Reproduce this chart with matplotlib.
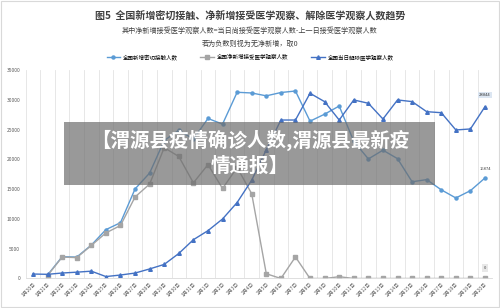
import numpy as np
import matplotlib.pyplot as plt
from matplotlib.patches import Rectangle

plt.rcParams['font.family'] = ['Noto Sans CJK SC', 'DejaVu Sans']

dates = ['1月%d日' % d for d in range(20, 32)] + ['2月%d日' % d for d in range(1, 21)]

# 全国新增密切接触人数
contacts = [np.nan, 600, 3650, 3600, 5600, 8200, 9368, 15034, 17704, 23156, 24886,
            23408, 26857, 25914, 31257, 31139, 30659, 31215, 31470, 26407, 27582,
            28951, 23024, 20069, 21536, 20116, 16235, 16598, 14885, 13517, 14745, 16874]
# 全国净新增接受医学观察人数
net_obs = [np.nan, 500, 3600, 3500, 5547, 7650, 8897, 13679, 15858, 21957, 20480,
           16051, 19116, 15106, 18629, 14226, 799, 0, 3615, 0, 0,
           300, 0, 0, 0, 0, 0, 0, 0, 0, 0, 0]
# 全国当日解除医学观察人数
released = [750, 700, 920, 1060, 1230, 324, 583, 914, 1604, 2364, 4201,
            6509, 8030, 9990, 12755, 16500, 21600, 26600, 26600, 31090, 29680,
            26600, 29970, 29410, 26770, 29970, 29690, 28000, 27830, 24930, 25100, 28844]

names = ['全国新增密切接触人数', '全国净新增接受医学观察人数', '全国当日解除医学观察人数']

fig = plt.figure(figsize=(5, 3.08), dpi=100)
ax = fig.add_axes([0.0514, 0.0958, 0.9332, 0.677])
x = np.arange(len(dates))

ax.plot(x, contacts, color='#5B9BD5', marker='o', markersize=2.2, linewidth=1.0, label=names[0])
ax.plot(x, net_obs, color='#A5A5A5', marker='s', markersize=2.4, linewidth=1.0, label=names[1])
ax.plot(x, released, color='#4472C4', marker='^', markersize=2.6, linewidth=1.0, label=names[2])

# data labels on the last points
ax.annotate('%d' % released[-1], (x[-1], released[-1]), xytext=(0, 7), textcoords='offset points',
            ha='center', va='bottom', fontsize=3, color='#404040',
            bbox=dict(boxstyle='square,pad=0.3', fc='#dce6f2', ec='none'))
ax.annotate('%d' % contacts[-1], (x[-1], contacts[-1]), xytext=(0, 5), textcoords='offset points',
            ha='center', va='bottom', fontsize=3, color='#404040')
ax.annotate('%d' % net_obs[-1], (x[-1], net_obs[-1]), xytext=(0, 6), textcoords='offset points',
            ha='center', va='bottom', fontsize=3, color='#404040',
            bbox=dict(boxstyle='square,pad=0.4', fc='#e8e8e8', ec='none'))

ax.set_xlim(-0.5, len(dates) - 0.5)
ax.set_ylim(0, 35000)
ax.set_yticks(range(0, 35001, 5000))
ax.set_xticks(x)
ax.set_xticklabels(dates, rotation=45, ha='right', rotation_mode='anchor', fontsize=3.5, color='#595959')
ax.tick_params(axis='y', labelsize=3.5, colors='#595959', length=0, pad=4)
ax.tick_params(axis='x', length=0, pad=2)
for b in np.arange(-0.5, len(dates), 1.0):
    ax.axvline(b, color='#e3e3e3', linewidth=0.6, zorder=0)
for s in ['top', 'right', 'left']:
    ax.spines[s].set_visible(False)
ax.spines['bottom'].set_color('#d9d9d9')
ax.spines['bottom'].set_linewidth(0.6)

fig.text(0.5, 0.950, '图5  全国新增密切接触、净新增接受医学观察、解除医学观察人数趋势',
         ha='center', va='center', fontsize=7.2, fontweight='bold', color='#404040')
fig.text(0.5, 0.900, '其中净新增接受医学观察人数=当日尚接受医学观察人数-上一日接受医学观察人数',
         ha='center', va='center', fontsize=5.1, color='#404040')
fig.text(0.5, 0.858, '若为负数则视为无净新增，取0',
         ha='center', va='center', fontsize=5.1, color='#404040')
fig.legend(loc='center', bbox_to_anchor=(0.5, 0.815), ncol=3, frameon=False, fontsize=4.0,
           handlelength=2.5, columnspacing=4, handletextpad=0.5)

# grey banner over the chart
fig.patches.append(Rectangle((64 / 500, 1 - 185 / 308), (435 - 64) / 500, (185 - 122) / 308,
                             transform=fig.transFigure, facecolor='#6e6e6e', alpha=0.7,
                             edgecolor='none', zorder=5))
fig.text(250 / 500, 1 - 140 / 308, '【渭源县疫情确诊人数,渭源县最新疫', ha='center', va='center',
         fontsize=14, fontweight='bold', color='white', zorder=6)
fig.text(250 / 500, 1 - 166 / 308, '情通报】', ha='center', va='center',
         fontsize=14, fontweight='bold', color='white', zorder=6)

fig.patches.append(Rectangle((0.002, 0.003), 0.996, 0.994, transform=fig.transFigure,
                             facecolor='none', edgecolor='#d9d9d9', linewidth=0.8))

fig.savefig('out.png', dpi=100)
